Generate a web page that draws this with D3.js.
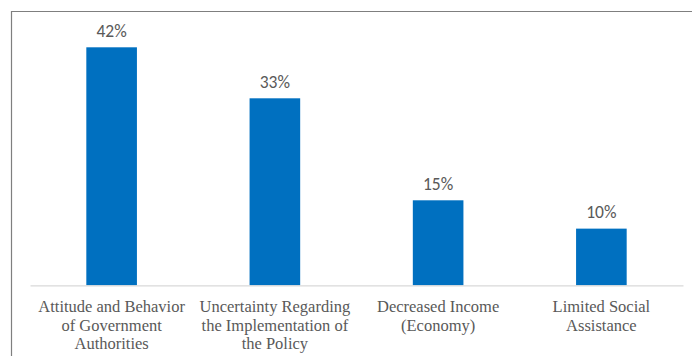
<!DOCTYPE html>
<html>
<head>
<meta charset="utf-8">
<script src="https://cdn.jsdelivr.net/npm/d3@7"></script>
<style>
  html, body { margin: 0; padding: 0; background: #fff; }
  svg { display: block; }
</style>
</head>
<body>
<svg id="chart" width="692" height="356"></svg>
<script>
const categories = [
  "Attitude and Behavior of Government Authorities",
  "Uncertainty Regarding the Implementation of the Policy",
  "Decreased Income (Economy)",
  "Limited Social Assistance"
];
// how each category label breaks onto lines
const tickLines = [
  ["Attitude and Behavior", "of Government", "Authorities"],
  ["Uncertainty Regarding", "the Implementation of", "the Policy"],
  ["Decreased Income", "(Economy)"],
  ["Limited Social", "Assistance"]
];
const values = [0.42, 0.33, 0.15, 0.10];

const width = 692;
const height = 356;

const svg = d3.select("#chart");

// chart area frame (only top and left edges fall inside the picture)
svg.append("path")
  .attr("d", `M11.5,${height} V11.5 H${width}`)
  .attr("fill", "none")
  .attr("stroke", "#7f7f7f")
  .attr("stroke-width", 1.2);

const x = d3.scaleBand()
  .domain(categories)
  .range([30, 683])
  .paddingInner(0.69)
  .paddingOuter(0.345);

const y = d3.scaleLinear()
  .domain([0, 0.42])
  .range([285.3, 47.3]);

const labels = new Map(categories.map((c, i) => [c, tickLines[i]]));

svg.selectAll(".bar")
  .data(categories)
  .enter()
  .append("rect")
  .attr("class", "bar")
  .attr("x", d => x(d))
  .attr("width", x.bandwidth())
  .attr("y", (d, i) => y(values[i]))
  .attr("height", (d, i) => y(0) - y(values[i]))
  .attr("fill", "#0070c0");

svg.selectAll(".value")
  .data(categories)
  .enter()
  .append("text")
  .attr("class", "value")
  .attr("x", d => x(d) + x.bandwidth() / 2)
  .attr("y", (d, i) => y(values[i]) - 10.8)
  .attr("text-anchor", "middle")
  .attr("fill", "#595959")
  .attr("font-family", "Carlito")
  .attr("font-size", 17.5)
  .text((d, i) => d3.format(".0%")(values[i]));

// category axis
const axis = svg.append("g")
  .attr("transform", `translate(0,${y(0)})`)
  .call(d3.axisBottom(x).tickSize(0).tickPadding(0))
  .attr("font-family", "Liberation Serif")
  .attr("font-size", 16.5);

axis.select(".domain")
  .attr("stroke", "#d9d9d9")
  .attr("stroke-width", 1.3);

axis.selectAll(".tick text").remove();

axis.selectAll(".tick")
  .append("text")
  .attr("text-anchor", "middle")
  .attr("fill", "#595959")
  .attr("font-family", "Liberation Serif")
  .attr("font-size", 16.5)
  .selectAll("tspan")
  .data(d => labels.get(d))
  .enter()
  .append("tspan")
  .attr("x", 0)
  .attr("y", (d, i) => 27.2 + i * 18.5)
  .text(d => d);
</script>
</body>
</html>
